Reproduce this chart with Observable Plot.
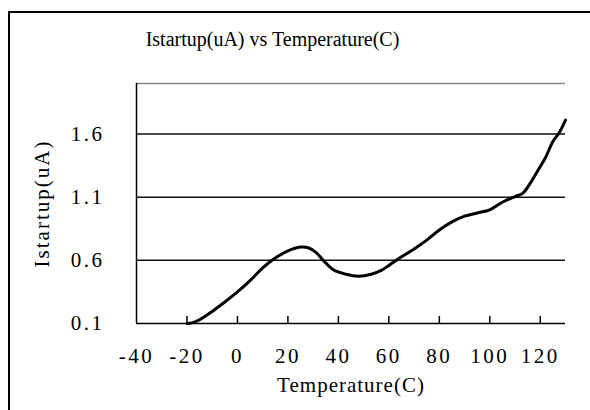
<!DOCTYPE html>
<html>
<head>
<meta charset="utf-8">
<script src="https://cdn.jsdelivr.net/npm/d3@7"></script>
<script src="https://cdn.jsdelivr.net/npm/@observablehq/plot@0.6"></script>
<style>
  html, body { margin: 0; padding: 0; background: #fff; }
  #wrap { position: relative; width: 590px; height: 410px; overflow: hidden; }
  #border { position: absolute; left: 8px; top: 11px; width: 700px; height: 500px;
            border-left: 2px solid #000; border-top: 2px solid #000; pointer-events: none; }
  g[aria-label$="tick label"] text { letter-spacing: 2.5px; }
</style>
</head>
<body>
<div id="wrap"><div id="border"></div></div>
<script>
const titleText = "Istartup(uA) vs Temperature(C)";
const xLabel = "Temperature(C)";
const yLabel = "Istartup(uA)";
const xTicks = [-40, -20, 0, 20, 40, 60, 80, 100, 120];
const yTicks = [0.1, 0.6, 1.1, 1.6];
const gridValues = [0.6, 1.1, 1.6];
const xDomain = [-40, 130];
const yDomain = [0.1, 2.0];

const temperature = [-20, -18, -15, -10, -5, 0, 5, 10, 14, 20, 25, 28, 31, 34, 38, 43, 48, 53, 57, 60, 64, 70, 75, 80, 85, 90, 95, 100, 105, 110, 113, 116, 119, 122, 125, 127.5, 130];
const istartup    = [0.10, 0.105, 0.13, 0.195, 0.27, 0.35, 0.44, 0.54, 0.605, 0.675, 0.705, 0.70, 0.665, 0.60, 0.525, 0.49, 0.475, 0.49, 0.52, 0.56, 0.615, 0.69, 0.76, 0.84, 0.905, 0.95, 0.975, 1.00, 1.06, 1.105, 1.13, 1.21, 1.31, 1.41, 1.54, 1.61, 1.71];

const data = temperature.map((t, i) => ({t, v: istartup[i]}));
const font = "'Liberation Serif', 'DejaVu Serif', serif";

const chart = Plot.plot({
  width: 590,
  height: 410,
  marginLeft: 136,
  marginRight: 25,
  marginTop: 83,
  marginBottom: 87,
  style: {fontFamily: font, background: "transparent", color: "#000"},
  x: {domain: xDomain},
  y: {domain: yDomain},
  marks: [
    Plot.ruleY([yDomain[1]], {stroke: "#888", strokeWidth: 1.5}),
    Plot.ruleY(gridValues, {stroke: "#111", strokeWidth: 1.5}),
    Plot.ruleX([xDomain[0]], {stroke: "#000", strokeWidth: 1.5}),
    Plot.ruleY([yDomain[0]], {stroke: "#000", strokeWidth: 1.5}),
    Plot.ruleX(xTicks.filter(d => d > xDomain[0]), {y1: yDomain[0], y2: yDomain[0], insetTop: -7, stroke: "#000", strokeWidth: 1.5}),
    Plot.axisY({ticks: yTicks, tickSize: 0, tickPadding: 32, fontSize: 21, label: null, tickFormat: d => d.toFixed(1)}),
    Plot.axisX({ticks: xTicks, tickSize: 0, tickPadding: 25, fontSize: 21, label: null, tickFormat: d => String(d)}),
    Plot.line(data, {x: "t", y: "v", stroke: "#000", strokeWidth: 3, curve: "catmull-rom"}),
    Plot.text([titleText], {frameAnchor: "top-left", dx: 272 - 136, dy: 39 - 83, text: d => d, textAnchor: "middle", lineAnchor: "middle", fontSize: 20}),
    Plot.text([xLabel], {frameAnchor: "bottom", dy: 385 - 323, text: d => d, textAnchor: "middle", lineAnchor: "middle", fontSize: 21}),
    Plot.text([yLabel], {frameAnchor: "left", dx: 42 - 136, text: d => d, rotate: -90, textAnchor: "middle", lineAnchor: "middle", fontSize: 21})
  ]
});
d3.select(chart).selectAll("text").filter(function() { return this.textContent === yLabel; }).attr("letter-spacing", "2px");
d3.select(chart).selectAll("text").filter(function() { return this.textContent === xLabel; }).attr("letter-spacing", "1px");
document.getElementById("wrap").prepend(chart);
</script>
</body>
</html>
